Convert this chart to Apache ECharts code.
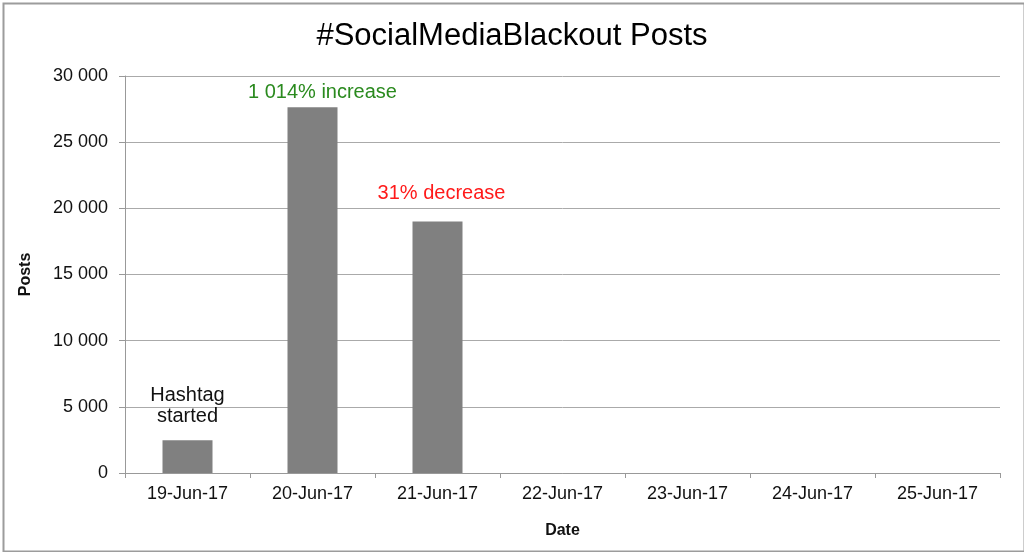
<!DOCTYPE html>
<html>
<head>
<meta charset="utf-8">
<script src="https://cdn.jsdelivr.net/npm/echarts@6/dist/echarts.min.js"></script>
<style>
html,body{margin:0;padding:0;background:#fff;}
#chart{width:1024px;height:552px;}
</style>
</head>
<body>
<div id="chart"></div>
<script>
var categories = ['19-Jun-17','20-Jun-17','21-Jun-17','22-Jun-17','23-Jun-17','24-Jun-17','25-Jun-17'];
var posts = [2480, 27630, 19000, null, null, null, null];
var annotations = ['Hashtag\nstarted', '1 014% increase', '31% decrease', '', '', '', ''];
var yTickLabels = ['0', '5 000', '10 000', '15 000', '20 000', '25 000', '30 000'];
var titleText = '#SocialMediaBlackout Posts';

var FONT = '"Liberation Sans", Arial, sans-serif';
var annStyles = [
  {color: '#111111', distance: 13, offset: [0, 0], lineHeight: 21},
  {color: '#2a8a1e', distance: 4, offset: [10, 0], lineHeight: 22},
  {color: '#ff1a1a', distance: 17, offset: [4, 0], lineHeight: 22}
];

var seriesData = posts.map(function (v, i) {
  var item = {value: v};
  if (annotations[i]) {
    var s = annStyles[i];
    item.label = {
      show: true, position: 'top', formatter: annotations[i],
      color: s.color, distance: s.distance, offset: s.offset,
      fontSize: 20, fontFamily: FONT, lineHeight: s.lineHeight
    };
  }
  return item;
});

var chart = echarts.init(document.getElementById('chart'), null, {renderer: 'canvas'});
chart.setOption({
  backgroundColor: '#ffffff',
  animation: false,
  title: {
    text: titleText, left: 'center', top: 16,
    textStyle: {fontFamily: FONT, fontSize: 31, fontWeight: 'normal', color: '#000'}
  },
  graphic: [{
    type: 'rect', left: 1, top: 1, silent: true,
    shape: {width: 1021, height: 548},
    style: {fill: null, stroke: '#9c9c9c', lineWidth: 2}
  }],
  grid: {left: 125, right: 24, top: 76, bottom: 79, containLabel: false},
  xAxis: {
    type: 'category', data: categories,
    name: 'Date', nameLocation: 'middle', nameGap: 50,
    nameTextStyle: {fontFamily: FONT, fontSize: 16, fontWeight: 'bold', color: '#111'},
    axisLine: {show: true, lineStyle: {color: '#999', width: 1}},
    axisTick: {show: true, length: 5, alignWithLabel: false, lineStyle: {color: '#999'}},
    axisLabel: {fontFamily: FONT, fontSize: 18, color: '#111', margin: 12, interval: 0},
    splitLine: {show: false}
  },
  yAxis: {
    type: 'value', min: 0, max: 30000, interval: 5000,
    name: 'Posts', nameLocation: 'middle', nameGap: 91, nameRotate: 90,
    nameTextStyle: {fontFamily: FONT, fontSize: 16, fontWeight: 'bold', color: '#111'},
    axisLine: {show: true, lineStyle: {color: '#999', width: 1}},
    axisTick: {show: true, length: 6, inside: false, lineStyle: {color: '#999'}},
    axisLabel: {
      fontFamily: FONT, fontSize: 18, color: '#111', margin: 17,
      formatter: function (v) { return yTickLabels[Math.round(v / 5000)]; }
    },
    splitLine: {show: true, lineStyle: {color: '#aaaaaa', width: 1}}
  },
  series: [{
    type: 'bar', data: seriesData, barCategoryGap: '60%',
    itemStyle: {color: '#808080'},
    label: {show: false}
  }]
});
</script>
</body>
</html>
